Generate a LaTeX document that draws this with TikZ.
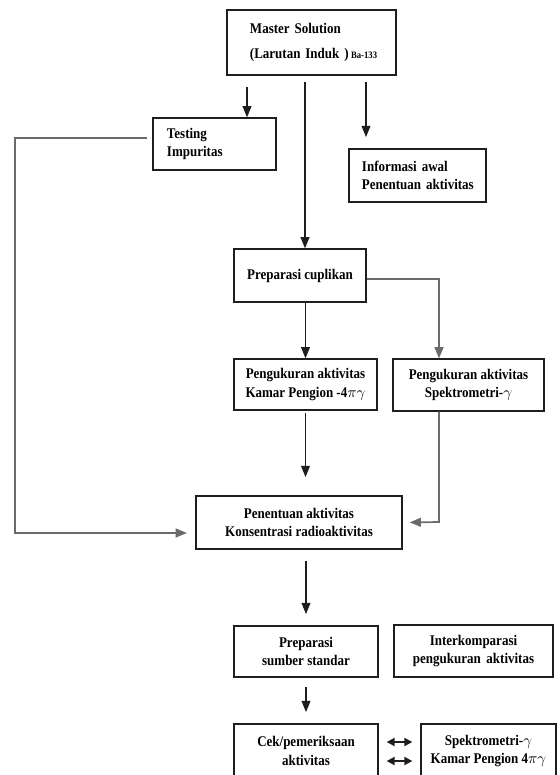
\documentclass[tikz,border=0pt]{standalone}
\usepackage{fontspec}
\setmainfont[FakeStretch=0.88]{Liberation Serif}
\usepackage{xcolor}
\usepackage{tikz}
\usetikzlibrary{arrows.meta,positioning,calc}
\definecolor{ink}{HTML}{1E1E1E}
\definecolor{linegray}{HTML}{6A6A6A}
\tikzset{
  box/.style={draw=ink, line width=0.9pt, inner sep=0pt, align=center,
    font=\fontsize{10.5}{13}\selectfont\bfseries},
  leftbox/.style={box, align=left},
  flow/.style={-{Triangle[length=2.8mm,width=2.2mm]}, draw=ink, line width=0.8pt},
  grayflow/.style={-{Triangle[length=2.8mm,width=2.2mm]}, draw=linegray, line width=1.2pt},
  twoway/.style={{Triangle[length=2mm,width=2mm]}-{Triangle[length=2mm,width=2mm]}, draw=ink, line width=1.3pt}
}

\begin{document}
\begin{tikzpicture}[x=0.025cm, y=-0.025cm]
  \useasboundingbox (0,0) rectangle (559,775);
  \clip (0,0) rectangle (559,775);

  \node[leftbox, inner xsep=0.575cm, text width=3.075cm,
        minimum width=4.225cm, minimum height=1.625cm] (master) at (311.5,42.5)
        {\mbox{Master Solution}\\[5pt]\mbox{(Larutan Induk )\,{\scriptsize Ba-133}}};

  \node[leftbox, inner xsep=0.35cm, text width=2.375cm, minimum width=3.075cm, minimum height=1.3cm]
        (testing) at (214.5,144) {\mbox{Testing}\\\mbox{Impuritas}};
  \node[leftbox, inner xsep=0.325cm, text width=2.775cm, minimum width=3.425cm, minimum height=1.325cm]
        (informasi) at (417.5,175.5) {\mbox{Informasi awal}\\\mbox{Penentuan aktivitas}};

  \node[box, minimum width=3.3cm, minimum height=1.325cm] (prepcup) at (300,275.5)
        {Preparasi cuplikan};

  \node[box, minimum width=3.575cm, minimum height=1.275cm] (kamar) at (305.5,384.5)
        {Pengukuran aktivitas\\Kamar Pengion -4$\pi\gamma$};
  \node[box, minimum width=3.775cm, minimum height=1.3cm] (spektro) at (468.5,385)
        {Pengukuran aktivitas\\Spektrometri-$\gamma$};

  \node[box, minimum width=5.15cm, minimum height=1.325cm] (penentuan) at (299,522.5)
        {Penentuan aktivitas\\Konsentrasi radioaktivitas};

  \node[box, minimum width=3.6cm, minimum height=1.275cm] (prepsumber) at (306,651.5)
        {Preparasi\\sumber standar};
  \node[box, minimum width=3.975cm, minimum height=1.3cm] (interkomp) at (473.5,651)
        {Interkomparasi\\pengukuran\, aktivitas};

  \node[box, minimum width=3.6cm, minimum height=1.35cm] (cek) at (306,751)
        {Cek/pemeriksaan\\aktivitas};
  \node[box, minimum width=3.375cm, minimum height=1.35cm] (spekkam) at (488.5,751)
        {Spektrometri-$\gamma$\\Kamar Pengion 4$\pi\gamma$};

  % bends
  \coordinate (tstart) at (247,87);
  \coordinate (istart) at (366,82);
  \coordinate (msplit) at (305,82);
  \coordinate (bendA) at (439,279);
  \coordinate (bendB) at (439,522);
  \coordinate (leftA) at (15,138);
  \coordinate (leftB) at (15,533);

  \draw[flow] (tstart) -- (tstart |- testing.north);
  \draw[flow, shorten >=8pt] (istart) -- (istart |- informasi.north);
  \draw[flow] (msplit) -- (msplit |- prepcup.north);

  \draw[flow] (prepcup.south -| kamar.north) -- (kamar.north);
  \draw[grayflow] (prepcup.east |- bendA) -- (bendA) -- (bendA |- spektro.north);

  \draw[flow, shorten <=2pt, shorten >=13pt] (kamar.south) -- (kamar.south |- penentuan.north);
  \draw[grayflow, shorten >=5pt] (spektro.south -| bendB) -- (bendB) -- (penentuan.east);
  \draw[grayflow, shorten >=6pt] ($(testing.west |- leftA)+(-5,0)$) -- (leftA) -- (leftB) -- (leftB -| penentuan.west);

  \draw[flow, shorten <=8pt, shorten >=8pt] (penentuan.south -| prepsumber.north) -- (prepsumber.north);
  \draw[flow, shorten <=7pt, shorten >=8pt] (prepsumber.south) -- (cek.north);

  \draw[twoway] ($(cek.east)+(8,-9)$) -- ($(spekkam.west)+(-8,-9)$);
  \draw[twoway] ($(cek.east)+(8,10)$) -- ($(spekkam.west)+(-8,10)$);
\end{tikzpicture}
\end{document}
